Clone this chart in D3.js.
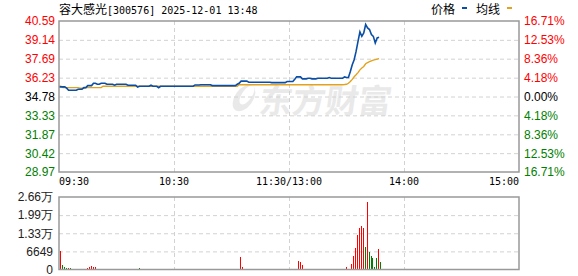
<!DOCTYPE html>
<html>
<head>
<meta charset="utf-8">
<script src="https://cdn.jsdelivr.net/npm/d3@7"></script>
<style>
html, body { margin: 0; padding: 0; background: #fff; }
svg { display: block; }
</style>
</head>
<body>
<div class="container"></div>
<script>
// ***********************************************
// data

var stockName = "容大感光";
var stockInfo = "[300576] 2025-12-01 13:48";
var preClose = 34.78;

var priceTicks = [40.59, 39.14, 37.69, 36.23, 34.78, 33.33, 31.87, 30.42, 28.97];
var pctTicks = ["16.71%", "12.53%", "8.36%", "4.18%", "0.00%", "4.18%", "8.36%", "12.53%", "16.71%"];

var timeTickIdx = [0, 60, 120, 180, 240];
var timeLabels = ["09:30", "10:30", "11:30/13:00", "14:00", "15:00"];

var volTicks = [0, 6649, 13298, 19947, 26596];
var volTickLabels = ["0", "6649", "1.33万", "1.99万", "2.66万"];

// one value per minute, 09:30 .. 13:47
var price = [
    35.52,35.52,35.52,35.52,35.42,35.26,35.26,35.26,35.26,35.26,
    35.34,35.34,35.34,35.46,35.46,35.62,35.62,35.62,35.80,35.80,
    35.72,35.72,35.80,35.80,35.80,35.72,35.72,35.72,35.72,35.65,
    35.72,35.72,35.72,35.72,35.72,35.72,35.65,35.65,35.65,35.65,
    35.65,35.50,35.57,35.57,35.57,35.57,35.57,35.57,35.65,35.57,
    35.57,35.57,35.46,35.57,35.57,35.57,35.57,35.57,35.57,35.57,
    35.57,35.57,35.57,35.57,35.57,35.57,35.57,35.57,35.57,35.57,
    35.57,35.67,35.67,35.67,35.69,35.69,35.69,35.69,35.69,35.69,
    35.62,35.62,35.62,35.62,35.62,35.62,35.62,35.62,35.62,35.62,
    35.62,35.62,35.62,35.72,35.80,35.96,35.96,35.96,35.96,35.88,
    35.88,35.88,35.88,35.88,35.88,35.88,35.88,35.88,35.88,35.88,
    35.88,35.85,35.85,35.85,35.85,35.85,35.85,35.85,35.85,35.93,
    35.93,35.93,35.93,36.10,36.29,36.29,36.29,36.14,36.14,36.14,
    36.19,36.19,36.14,36.14,36.14,36.19,36.19,36.19,36.19,36.19,
    36.19,36.24,36.19,36.19,36.19,36.19,36.19,36.19,36.19,36.29,
    36.24,36.24,36.70,37.22,37.61,38.25,39.02,39.75,39.41,39.67,
    40.32,40.06,39.93,39.54,39.41,38.90,39.29,39.34
];

var avgPrice = [
    35.57,35.57,35.46,35.46,35.46,35.46,35.46,35.46,35.46,35.46,
    35.46,35.42,35.42,35.42,35.46,35.46,35.46,35.46,35.46,35.46,
    35.46,35.46,35.46,35.57,35.57,35.57,35.57,35.57,35.57,35.57,
    35.57,35.57,35.57,35.57,35.57,35.57,35.57,35.57,35.57,35.57,
    35.57,35.57,35.57,35.57,35.57,35.57,35.57,35.57,35.57,35.57,
    35.57,35.57,35.57,35.57,35.57,35.57,35.57,35.57,35.57,35.57,
    35.57,35.57,35.57,35.57,35.57,35.57,35.57,35.57,35.57,35.57,
    35.57,35.57,35.57,35.57,35.57,35.57,35.57,35.57,35.57,35.57,
    35.57,35.57,35.57,35.57,35.57,35.57,35.57,35.57,35.57,35.57,
    35.57,35.57,35.57,35.57,35.68,35.68,35.68,35.68,35.68,35.68,
    35.68,35.68,35.68,35.68,35.68,35.68,35.68,35.68,35.68,35.68,
    35.68,35.68,35.68,35.68,35.68,35.68,35.68,35.68,35.68,35.68,
    35.68,35.68,35.68,35.68,35.69,35.69,35.69,35.69,35.69,35.69,
    35.69,35.69,35.69,35.69,35.69,35.69,35.69,35.69,35.69,35.69,
    35.69,35.69,35.69,35.69,35.69,35.69,35.69,35.69,35.69,35.70,
    35.72,35.80,35.93,36.10,36.30,36.45,36.62,36.83,36.97,37.09,
    37.30,37.38,37.46,37.52,37.58,37.62,37.66,37.69
];

var volume = [
    6950,1650,1000,700,600,600,300,300,300,300,
    300,300,300,300,600,900,1200,1100,1100,300,
    300,300,250,300,300,300,250,300,300,300,
    300,300,300,250,300,300,300,300,300,300,
    300,600,300,300,300,250,300,300,300,300,
    300,300,300,300,300,300,250,300,300,300,
    300,300,300,300,300,300,300,300,300,300,
    300,300,300,300,300,300,300,300,300,300,
    300,300,300,300,300,300,300,300,300,300,
    300,300,300,350,4700,1000,300,300,300,300,
    300,300,300,300,300,300,300,300,300,300,
    300,300,300,300,300,300,300,300,300,300,
    300,300,300,300,3100,2800,1650,300,300,300,
    300,300,300,300,300,300,300,300,300,300,
    300,300,300,300,300,300,300,300,300,900,
    300,300,2000,5000,7900,12700,15300,16000,15300,8300,
    24900,6450,5000,4200,900,4200,7500,2800
];

// u = price up (red bar), d = price down (green bar)
var volDir = [
    "udddudduuu", "uuuuuuuuud", "dddddddddu", "dddddddddd",
    "dddddudduu", "uuuudddduu", "dduudduudd", "uuuududduu",
    "dddduuuudd", "duuuuudddu", "uuddduuuuu", "udddduuuuu",
    "dduuuuuddd", "uudduudddu", "udddduuddu", "dduuuuuuud",
    "udddddud"
].join("").split("");

// ***********************************************

var W = 578, H = 276;
var left = 59, right = 519;
var mTop = 21, mBottom = 172;
var vTop = 197, vBottom = 269.5;

var red = "#ff0000", green = "#008000", black = "#000";
var gridColor = "#d2d2d2", borderColor = "#999";
var numFont = "'Liberation Sans', Arial, sans-serif";
var cjkFont = "'Noto Sans CJK SC', sans-serif";
var monoFont = "'DejaVu Sans Mono', 'Liberation Mono', monospace";

var svg = d3.select(".container")
    .append("svg")
        .attr("width", W)
        .attr("height", H);

var x = d3.scaleLinear().domain([0, 240]).range([left, right]);
var y = d3.scaleLinear().domain([priceTicks[8], priceTicks[0]]).range([mBottom, mTop]);
var vy = d3.scaleLinear().domain([0, volTicks[4]]).range([vBottom, vTop]);

function tickColor(v) {
    if (Math.abs(v - preClose) < 0.005) return black;
    return v > preClose ? red : green;
}

// watermark (logo + name)
var wm = svg.append("g").attr("fill", "#e9e9e9");
wm.append("ellipse")
    .attr("cx", 244)
    .attr("cy", 98)
    .attr("rx", 9)
    .attr("ry", 15)
    .attr("transform", "rotate(35,244,98)");
wm.append("ellipse")
    .attr("cx", 247)
    .attr("cy", 95)
    .attr("rx", 5)
    .attr("ry", 11)
    .attr("fill", "#fff")
    .attr("transform", "rotate(35,247,95)");
wm.append("text")
    .attr("x", 258)
    .attr("y", 113)
    .attr("font-family", cjkFont)
    .attr("font-weight", "bold")
    .attr("font-size", 33)
    .attr("transform", "translate(16,0) skewX(-8)")
    .text("东方财富");

function dashed(g) {
    g.select(".domain").remove();
    g.selectAll("line").attr("stroke", gridColor).attr("stroke-dasharray", "4,3");
}

// gridlines, main chart
svg.append("g")
    .attr("transform", "translate(" + left + ",0)")
    .call(d3.axisLeft(y).tickValues(priceTicks.slice(1, 8)).tickSize(-(right - left)).tickFormat(""))
    .call(dashed);

svg.append("g")
    .attr("transform", "translate(0," + mTop + ")")
    .call(d3.axisBottom(x).tickValues(timeTickIdx.slice(1, 4)).tickSize(mBottom - mTop).tickFormat(""))
    .call(dashed);

// gridlines, volume chart
svg.append("g")
    .attr("transform", "translate(" + left + ",0)")
    .call(d3.axisLeft(vy).tickValues(volTicks.slice(1, 4)).tickSize(-(right - left)).tickFormat(""))
    .call(dashed);

svg.append("g")
    .attr("transform", "translate(0," + vTop + ")")
    .call(d3.axisBottom(x).tickValues(timeTickIdx.slice(1, 4)).tickSize(vBottom - vTop).tickFormat(""))
    .call(dashed);

// left price labels
svg.append("g")
    .attr("transform", "translate(" + left + ",0)")
    .call(d3.axisLeft(y).tickValues(priceTicks).tickSize(0).tickPadding(4).tickFormat(d3.format(".2f")))
    .call(g => g.select(".domain").remove())
    .call(g => g.selectAll("text")
        .attr("font-family", numFont)
        .attr("font-size", 12)
        .attr("fill", d => tickColor(d)));

// right percent labels
svg.append("g")
    .attr("transform", "translate(" + right + ",0)")
    .call(d3.axisRight(y).tickValues(priceTicks).tickSize(0).tickPadding(5)
        .tickFormat((d, i) => pctTicks[i]))
    .call(g => g.select(".domain").remove())
    .call(g => g.selectAll("text")
        .attr("font-family", numFont)
        .attr("font-size", 12)
        .attr("fill", d => tickColor(d)));

// time labels
svg.append("g")
    .selectAll("text")
    .data(timeTickIdx)
    .enter()
    .append("text")
        .attr("x", d => x(d))
        .attr("y", 185)
        .attr("text-anchor", (d, i) => i == 0 ? "start" : (i == timeTickIdx.length - 1 ? "end" : "middle"))
        .attr("font-family", monoFont)
        .attr("font-size", 10)
        .attr("fill", black)
        .text((d, i) => timeLabels[i]);

// volume labels
svg.append("g")
    .attr("transform", "translate(" + left + ",0)")
    .call(d3.axisLeft(vy).tickValues(volTicks).tickSize(0).tickPadding(6)
        .tickFormat((d, i) => volTickLabels[i]))
    .call(g => g.select(".domain").remove())
    .call(g => g.selectAll("text")
        .attr("font-family", numFont)
        .attr("font-size", 12)
        .attr("fill", "#222"));

// volume bars
svg.append("g")
    .attr("shape-rendering", "crispEdges")
    .selectAll("rect")
    .data(volume)
    .enter()
    .append("rect")
        .attr("x", (d, i) => Math.round(x(i)) + 1)
        .attr("width", 1)
        .attr("y", d => vy(d))
        .attr("height", d => vBottom - vy(d))
        .attr("fill", (d, i) => volDir[i] == "u" ? red : green);

// price + average lines
var line = d3.line()
    .x((d, i) => x(i))
    .y(d => y(d));

svg.append("path")
    .datum(avgPrice)
    .attr("fill", "none")
    .attr("stroke", "#e3a21d")
    .attr("stroke-width", 1.4)
    .attr("d", line);

svg.append("path")
    .datum(price)
    .attr("fill", "none")
    .attr("stroke", "#0a4ea6")
    .attr("stroke-width", 1.6)
    .attr("d", line);

// borders
[[mTop, mBottom], [vTop, vBottom]].forEach(function (b) {
    svg.append("rect")
        .attr("x", left)
        .attr("y", b[0])
        .attr("width", right - left)
        .attr("height", b[1] - b[0])
        .attr("fill", "none")
        .attr("stroke", borderColor)
        .attr("stroke-width", 1.5);
});

// title
var title = svg.append("text")
    .attr("x", left)
    .attr("y", 14)
    .attr("fill", black);
title.append("tspan")
    .attr("font-family", cjkFont)
    .attr("font-size", 12)
    .text(stockName);
title.append("tspan")
    .attr("font-family", monoFont)
    .attr("font-size", 10)
    .text(stockInfo);

// legend
var legend = [
    { name: "价格", color: "#0a4ea6", x: 431 },
    { name: "均线", color: "#e3a21d", x: 476 }
];
var lg = svg.append("g");
lg.selectAll("text")
    .data(legend)
    .enter()
    .append("text")
        .attr("x", d => d.x)
        .attr("y", 14)
        .attr("font-family", cjkFont)
        .attr("font-size", 12)
        .attr("fill", black)
        .text(d => d.name);
lg.selectAll("rect")
    .data(legend)
    .enter()
    .append("rect")
        .attr("x", d => d.x + 31)
        .attr("y", 7)
        .attr("width", 5)
        .attr("height", 2)
        .attr("fill", d => d.color);
</script>
</body>
</html>
